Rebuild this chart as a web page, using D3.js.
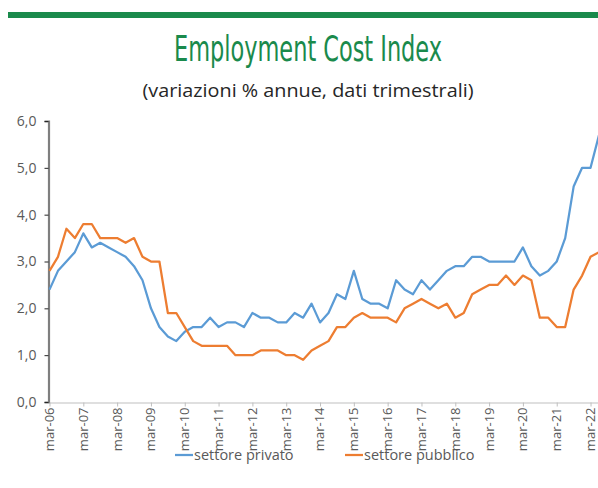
<!DOCTYPE html>
<html>
<head>
<meta charset="utf-8">
<script src="https://cdn.jsdelivr.net/npm/d3@7"></script>
<style>
  body { margin: 0; background: #fff; }
  text { font-family: "Open Sans", "Noto Sans", sans-serif; }
</style>
</head>
<body>
<div id="chart"></div>
<script>
// quarterly data, mar-06 .. jun-22
var privato = [2.4, 2.8, 3.0, 3.2, 3.6, 3.3, 3.4, 3.3, 3.2, 3.1, 2.9, 2.6, 2.0, 1.6, 1.4, 1.3,
  1.5, 1.6, 1.6, 1.8, 1.6, 1.7, 1.7, 1.6, 1.9, 1.8, 1.8, 1.7, 1.7, 1.9, 1.8, 2.1,
  1.7, 1.9, 2.3, 2.2, 2.8, 2.2, 2.1, 2.1, 2.0, 2.6, 2.4, 2.3, 2.6, 2.4, 2.6, 2.8,
  2.9, 2.9, 3.1, 3.1, 3.0, 3.0, 3.0, 3.0, 3.3, 2.9, 2.7, 2.8, 3.0, 3.5, 4.6, 5.0,
  5.0, 5.7];
var pubblico = [2.8, 3.1, 3.7, 3.5, 3.8, 3.8, 3.5, 3.5, 3.5, 3.4, 3.5, 3.1, 3.0, 3.0, 1.9, 1.9,
  1.6, 1.3, 1.2, 1.2, 1.2, 1.2, 1.0, 1.0, 1.0, 1.1, 1.1, 1.1, 1.0, 1.0, 0.9, 1.1,
  1.2, 1.3, 1.6, 1.6, 1.8, 1.9, 1.8, 1.8, 1.8, 1.7, 2.0, 2.1, 2.2, 2.1, 2.0, 2.1,
  1.8, 1.9, 2.3, 2.4, 2.5, 2.5, 2.7, 2.5, 2.7, 2.6, 1.8, 1.8, 1.6, 1.6, 2.4, 2.7,
  3.1, 3.2];
var xLabels = ["mar-06", "mar-07", "mar-08", "mar-09", "mar-10", "mar-11", "mar-12", "mar-13",
  "mar-14", "mar-15", "mar-16", "mar-17", "mar-18", "mar-19", "mar-20", "mar-21", "mar-22"];
var yTicks = [0, 1, 2, 3, 4, 5, 6];
var seriesNames = ["settore privato", "settore pubblico"];

var W = 598, H = 488;
var green = "#1a8a4c", blue = "#5b9bd5", orange = "#ed7d31", grey = "#595959";

var svg = d3.select("#chart").append("svg").attr("width", W).attr("height", H);

// top bar + titles
svg.append("rect").attr("x", 8).attr("y", 12).attr("width", W - 8).attr("height", 6).attr("fill", green);
svg.append("text")
  .attr("x", 308).attr("y", 61)
  .attr("text-anchor", "middle")
  .attr("textLength", 268).attr("lengthAdjust", "spacingAndGlyphs")
  .style("font-family", "'DejaVu Sans Condensed', sans-serif")
  .style("font-size", "35px")
  .attr("fill", green)
  .text("Employment Cost Index");
svg.append("text")
  .attr("x", 308).attr("y", 97)
  .attr("text-anchor", "middle")
  .attr("textLength", 331).attr("lengthAdjust", "spacingAndGlyphs")
  .style("font-size", "18px")
  .attr("fill", "#262626")
  .text("(variazioni % annue, dati trimestrali)");

var x = d3.scaleLinear().domain([0, privato.length - 1]).range([49.5, 599]);
var y = d3.scaleLinear().domain([0, 6]).range([402, 121]);

// y axis
var yAxis = svg.append("g").attr("transform", "translate(48.5,0)")
  .call(d3.axisLeft(y).tickValues(yTicks).tickSize(4).tickPadding(8)
    .tickFormat(function (d) { return d3.format(".1f")(d).replace(".", ","); }));
yAxis.select(".domain").attr("stroke", "#7f7f7f").attr("stroke-width", 2.2);
yAxis.selectAll(".tick line").attr("stroke", "#262626");
yAxis.selectAll(".tick text").attr("fill", grey).style("font-size", "14px")
  .style("font-family", "'Open Sans', sans-serif");

// x axis
var xAxis = svg.append("g").attr("transform", "translate(0,402.5)")
  .call(d3.axisBottom(x).tickValues(d3.range(0, privato.length, 4)).tickSize(4).tickSizeOuter(0)
    .tickFormat(function (d) { return xLabels[d / 4]; }));
xAxis.select(".domain").attr("stroke", "#bfbfbf");
xAxis.selectAll(".tick line").attr("stroke", "#bfbfbf");
xAxis.selectAll(".tick text")
  .attr("fill", grey).style("font-size", "13px")
  .attr("transform", "rotate(-90)")
  .attr("text-anchor", "end")
  .attr("x", -5).attr("y", 0).attr("dy", "0.3em");

// lines
var line = d3.line().x(function (d, i) { return x(i); }).y(function (d) { return y(d); });
[[privato, blue], [pubblico, orange]].forEach(function (s) {
  svg.append("path").datum(s[0])
    .attr("fill", "none").attr("stroke", s[1]).attr("stroke-width", 2.25)
    .attr("stroke-linejoin", "round")
    .attr("d", line);
});

// legend
var legend = [[175, blue], [345, orange]];
legend.forEach(function (l, i) {
  svg.append("line").attr("x1", l[0]).attr("x2", l[0] + 18)
    .attr("y1", 455).attr("y2", 455).attr("stroke", l[1]).attr("stroke-width", 2.25);
  svg.append("text").attr("x", l[0] + 19).attr("y", 460)
    .attr("fill", grey).style("font-size", "14.5px")
    .text(seriesNames[i]);
});
</script>
</body>
</html>
